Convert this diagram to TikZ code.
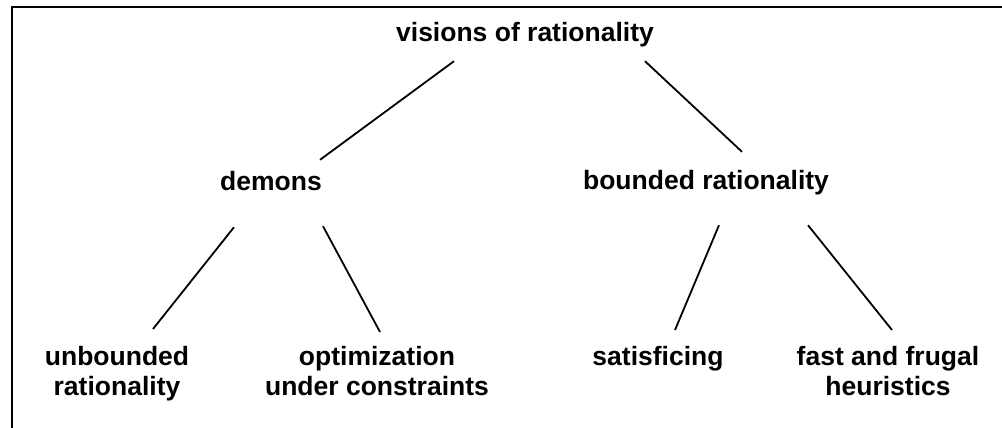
\documentclass[tikz,border=0pt]{standalone}
\usepackage{fontspec}
\setmainfont{Liberation Sans}
\begin{document}
\begin{tikzpicture}[x=1pt, y=-1pt, every node/.style={font=\bfseries\fontsize{26.5}{30}\selectfont, inner sep=0pt},
        lbl/.style={anchor=base, text height=20pt, text depth=6pt},
        leaf/.style={anchor=north, align=center},
        branch/.style={line width=1.8pt}]
        \useasboundingbox (0,0) rectangle (1002,428);
        \draw[line width=2.5pt] (12,440) -- (12,7) -- (1010,7);
        \node[lbl] (vis) at (525,42) {visions of rationality};
        \node[lbl] (dem) at (271,190) {demons};
        \node[lbl] (bnd) at (706,189) {bounded rationality};
        \node[leaf] (unb) at (117,346) {unbounded\\rationality};
        \node[leaf] (opt) at (377,346) {optimization\\under constraints};
        \node[leaf] (sat) at (658,346) {satisficing};
        \node[leaf] (ffh) at (888,346) {fast and frugal\\heuristics};
        \draw[branch] ([xshift=-71pt,yshift=-13pt]vis.south) -- ([xshift=49pt,yshift=10pt]dem.north);
        \draw[branch] ([xshift=120pt,yshift=-13pt]vis.south) -- ([xshift=36pt,yshift=17pt]bnd.north);
        \draw[branch] ([xshift=-37pt,yshift=-31pt]dem.south) -- ([xshift=36pt,yshift=17pt]unb.north);
        \draw[branch] ([xshift=52pt,yshift=-30pt]dem.south) -- ([xshift=3pt,yshift=14pt]opt.north);
        \draw[branch] ([xshift=13pt,yshift=-30pt]bnd.south) -- ([xshift=17pt,yshift=16pt]sat.north);
        \draw[branch] ([xshift=102pt,yshift=-30pt]bnd.south) -- ([xshift=4pt,yshift=16pt]ffh.north);
\end{tikzpicture}
\end{document}
